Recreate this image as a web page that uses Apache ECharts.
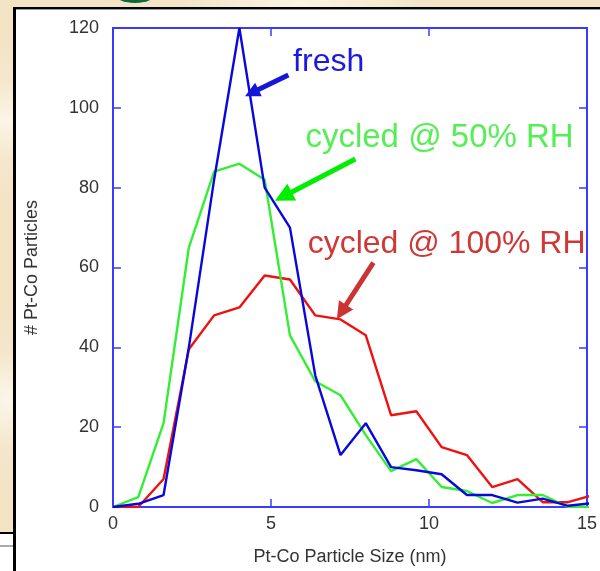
<!DOCTYPE html>
<html><head><meta charset="utf-8">
<script src="https://cdn.jsdelivr.net/npm/echarts@6/dist/echarts.min.js"></script>
<style>
html,body{margin:0;padding:0;}
body{width:600px;height:571px;position:relative;overflow:hidden;
  background:radial-gradient(circle at 5px 120px,#fcf5e6 0,#f5e7cc 40px,transparent 80px),
             radial-gradient(circle at 6px 400px,#fcf6e8 0,#f4e6ca 50px,transparent 90px),
             radial-gradient(circle at 300px 2px,#fbf4e4 0,#f3e4c6 120px),
             #f5e8ce;}
#panel{position:absolute;left:13px;top:7px;width:600px;height:600px;background:#fff;
  border-left:3px solid #000;border-top:2px solid #000;box-shadow:inset 0 1px 0 #999;}
#bl{position:absolute;left:0;top:532px;width:13px;height:40px;background:#fff;border-top:2px solid #000;}
#bl2{position:absolute;left:0;top:545px;width:13px;height:2px;background:#aaa;}
#ell{position:absolute;left:112px;top:-21px;width:46px;height:24px;border-radius:50%;background:#0f6a3b;}
#chart{position:absolute;left:0;top:0;width:600px;height:571px;}
</style></head>
<body>
<div id="ell"></div><div id="panel"></div><div id="bl"></div><div id="bl2"></div>
<div id="chart"></div>
<script>
// particle size bins (nm)
const sizes   = [0,0.8,1.6,2.4,3.2,4.0,4.8,5.6,6.4,7.2,8.0,8.8,9.6,10.4,11.2,12.0,12.8,13.6,14.4,15.2];
const fresh   = [0,0.8,3,40,82,120,80,70,33,13,21,10,9.2,8.2,3,3,1.1,2.1,0.3,1];
const cyc50   = [0,2.5,21,65,84,86,82,43,31.5,28,18,9,12,5,4,1,3,3,0,0];
const cyc100  = [0,0,7,39.5,48,50,58,57,48,47,43,23,24,15,13,5,7,1.2,1.2,3];
const xTicks  = [0,5,10,15];
const yTicks  = [0,20,40,60,80,100,120];
// annotations: [text, anchor x, anchor y, arrow tail x, tail y, head x, head y]
const notes = [
  ['fresh',            5.70, 111.5, 5.55, 108.25, 4.39, 103.75],
  ['cycled @ 50% RH',  6.09, 92.5,  7.67, 87.2,   5.39, 77.8],
  ['cycled @ 100% RH', 6.16, 65.75, 8.24, 61.2,   7.23, 48.85]
];
const lineColors = ['#0808dc','#33ee33','#ee1111'];
const textColors = ['#1a1ae0','#55ee55','#d03838'];
const arrowColors = ['#1616d8','#00ee00','#cc3333'];
const arrowSizes = [15,19,17];
const textSizes = [32,33,32];

const FONT = '"Liberation Sans", Arial, sans-serif';
const AX = '#3b3bff';
const chart = echarts.init(document.getElementById('chart'));
const axisCommon = (min,max,interval,pos,labels) => ({
  type:'value', min, max, interval, position:pos,
  axisLine:{show:true,onZero:false,lineStyle:{color:AX,width:2}},
  axisTick:{show:true,inside:true,length:8,lineStyle:{color:AX,width:1.5}},
  axisLabel:{show:labels,color:'#333',fontSize:18,fontFamily:FONT,
    margin: (pos==='bottom'?8:14),showMinLabel:true,showMaxLabel:true},
  splitLine:{show:false}
});
const xa0 = Object.assign(axisCommon(xTicks[0],xTicks[xTicks.length-1],5,'bottom',true),
  {name:'Pt-Co Particle Size (nm)',nameLocation:'middle',nameGap:41,
   nameTextStyle:{color:'#333',fontSize:18,fontFamily:FONT}});
const ya0 = Object.assign(axisCommon(yTicks[0],yTicks[yTicks.length-1],20,'left',true),
  {name:'# Pt-Co Particles',nameLocation:'middle',nameGap:72,
   nameTextStyle:{color:'#333',fontSize:18,fontFamily:FONT}});
const xa1 = axisCommon(0,15,5,'top',false);
const ya1 = axisCommon(0,120,20,'right',false);

const seriesData = [fresh,cyc50,cyc100];
const names = ['fresh','cycled @ 50% RH','cycled @ 100% RH'];
const series = seriesData.map((arr,i)=>({
  type:'line', name:names[i], xAxisIndex:0, yAxisIndex:0,
  data: sizes.map((s,j)=>[s,arr[j]]),
  showSymbol:false, symbol:'none', clip:true,
  lineStyle:{color:lineColors[i],width:2.4},
  markLine:{silent:true,animation:false,symbol:['none','triangle'],symbolSize:arrowSizes[i],
    label:{show:false},emphasis:{disabled:true},
    lineStyle:{color:arrowColors[i],width:5,type:'solid'},
    data:[[{coord:[notes[i][3],notes[i][4]]},{coord:[notes[i][5],notes[i][6]]}]]}
}));
series.reverse();
chart.setOption({
  animation:false,
  grid:{left:113,top:28,right:8,bottom:64,containLabel:false},
  xAxis:[xa0,xa1], yAxis:[ya0,ya1],
  series
});
const g = notes.map((n,i)=>{
  const p = chart.convertToPixel({xAxisIndex:0,yAxisIndex:0},[n[1],n[2]]);
  return {type:'text',x:p[0],y:p[1],z:100,
    style:{text:n[0],fill:textColors[i],fontSize:textSizes[i],fontFamily:FONT,align:'left',verticalAlign:'middle'}};
});
chart.setOption({graphic:g});
</script>
</body></html>
